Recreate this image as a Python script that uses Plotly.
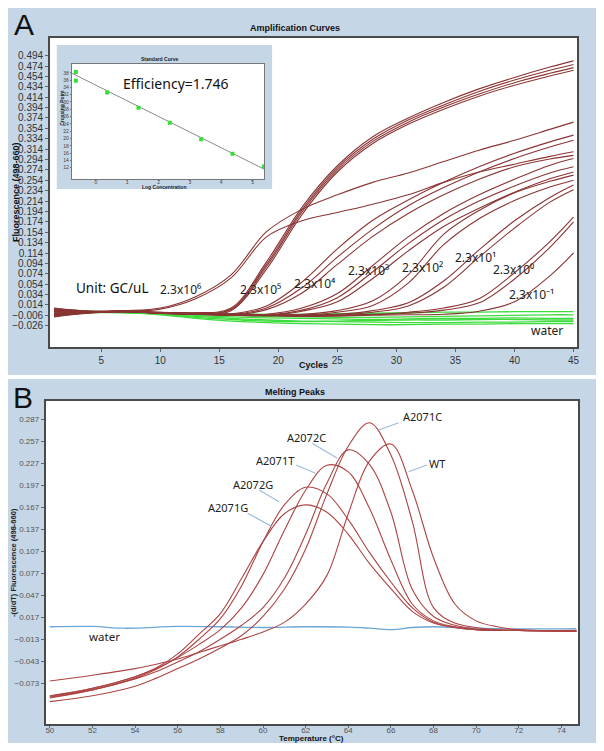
import numpy as np
import plotly.graph_objects as go

# the page body keeps its default 8px margin, so the figure is drawn 8px in
# from the top-left corner of the window; all layout positions below are
# given in window pixels and shifted back by OFF
OFF = 8
W, H = 604 - 2 * OFF, 751 - 2 * OFF


def px(x):
    return (x - OFF) / W


def py(y):
    return 1 - (y - OFF) / H


# ---------------- A: amplification curves ----------------
cycles = [1, 4, 7, 10, 13, 16, 19, 22, 25, 28, 31, 34, 37, 40, 43, 45]

# 2.3x10^6
g6a = [0.006, 0.001, 0.003, 0.008, 0.030, 0.072, 0.155, 0.198, 0.226, 0.250, 0.268, 0.290, 0.312, 0.331, 0.352, 0.366]
g6b = [-0.004, 0.000, 0.002, 0.006, 0.026, 0.066, 0.145, 0.176, 0.192, 0.208, 0.226, 0.250, 0.270, 0.285, 0.300, 0.309]
# 2.3x10^5
g5a = [0.004, 0.001, 0.002, 0.000, -0.001, 0.008, 0.097, 0.202, 0.282, 0.338, 0.374, 0.404, 0.430, 0.452, 0.472, 0.484]
g5b = [-0.002, 0.000, 0.001, -0.002, -0.002, 0.006, 0.092, 0.197, 0.278, 0.333, 0.370, 0.399, 0.425, 0.447, 0.466, 0.477]
g5c = [0.008, 0.002, 0.001, -0.001, -0.003, 0.005, 0.088, 0.193, 0.274, 0.329, 0.366, 0.395, 0.420, 0.442, 0.460, 0.471]
g5d = [-0.007, -0.001, 0.002, -0.002, -0.004, 0.003, 0.083, 0.188, 0.270, 0.325, 0.362, 0.391, 0.416, 0.437, 0.455, 0.466]
# 2.3x10^4
g4a = [0.002, 0.000, 0.002, -0.001, -0.002, -0.003, 0.012, 0.058, 0.122, 0.177, 0.216, 0.250, 0.280, 0.306, 0.328, 0.341]
g4b = [-0.005, -0.001, 0.001, -0.002, -0.003, -0.004, 0.008, 0.047, 0.106, 0.160, 0.205, 0.240, 0.270, 0.296, 0.318, 0.331]
g4c = [0.005, 0.001, 0.002, -0.001, -0.003, -0.005, 0.005, 0.037, 0.092, 0.146, 0.190, 0.226, 0.256, 0.280, 0.295, 0.302]
# 2.3x10^3
g3a = [-0.003, 0.000, 0.001, -0.002, -0.003, -0.005, -0.004, 0.008, 0.036, 0.090, 0.145, 0.190, 0.226, 0.256, 0.283, 0.296]
g3b = [0.001, 0.001, 0.002, -0.001, -0.002, -0.004, -0.005, 0.004, 0.028, 0.078, 0.132, 0.178, 0.214, 0.243, 0.268, 0.280]
g3c = [-0.008, -0.001, 0.001, -0.002, -0.004, -0.006, -0.006, 0.002, 0.020, 0.065, 0.118, 0.165, 0.200, 0.231, 0.257, 0.270]
# 2.3x10^2
g2a = [0.003, 0.001, 0.002, -0.001, -0.002, -0.004, -0.005, -0.004, 0.003, 0.022, 0.072, 0.150, 0.196, 0.230, 0.252, 0.264]
g2b = [-0.001, 0.000, 0.001, -0.002, -0.003, -0.005, -0.006, -0.006, 0.000, 0.013, 0.056, 0.130, 0.180, 0.215, 0.241, 0.254]
# 2.3x10^1
g1a = [0.007, 0.002, 0.002, 0.000, -0.002, -0.004, -0.005, -0.005, -0.004, 0.003, 0.018, 0.060, 0.120, 0.176, 0.221, 0.245]
g1b = [-0.006, -0.001, 0.001, -0.002, -0.003, -0.005, -0.006, -0.007, -0.006, 0.000, 0.012, 0.048, 0.106, 0.162, 0.212, 0.236]
# 2.3x10^0
g0a = [0.002, 0.000, 0.002, -0.001, -0.003, -0.005, -0.006, -0.006, -0.005, -0.004, 0.000, 0.008, 0.026, 0.076, 0.136, 0.183]
g0b = [-0.009, -0.002, 0.001, -0.002, -0.004, -0.006, -0.007, -0.008, -0.007, -0.005, -0.002, 0.004, 0.018, 0.064, 0.125, 0.174]
# 2.3x10^-1
gm1 = [0.004, 0.001, 0.002, -0.001, -0.003, -0.005, -0.006, -0.007, -0.007, -0.006, -0.005, -0.004, 0.002, 0.020, 0.070, 0.114]

brown = [g6a, g6b, g5a, g5b, g5c, g5d, g4a, g4b, g4c, g3a, g3b, g3c,
         g2a, g2b, g1a, g1b, g0a, g0b, gm1]

# water (no template) wells
w1 = [0.004, 0.001, 0.000, -0.002, -0.004, -0.006, -0.008, -0.009, -0.010, -0.010, -0.009, -0.008, -0.007, -0.006, -0.005, -0.005]
w2 = [-0.003, 0.000, -0.001, -0.004, -0.008, -0.012, -0.015, -0.017, -0.018, -0.019, -0.020, -0.020, -0.019, -0.019, -0.018, -0.018]
w3 = [0.002, 0.001, -0.001, -0.005, -0.012, -0.017, -0.020, -0.022, -0.023, -0.024, -0.024, -0.023, -0.023, -0.022, -0.022, -0.022]
w4 = [0.006, 0.002, 0.000, -0.001, -0.002, -0.003, -0.004, -0.004, -0.003, -0.002, -0.001, 0.000, 0.000, 0.001, 0.001, 0.001]
w5 = [-0.006, -0.001, -0.001, -0.003, -0.006, -0.009, -0.011, -0.012, -0.013, -0.014, -0.013, -0.012, -0.012, -0.011, -0.012, -0.012]
w6 = [0.000, 0.000, -0.001, -0.004, -0.010, -0.014, -0.017, -0.018, -0.017, -0.016, -0.015, -0.015, -0.014, -0.014, -0.015, -0.015]
water_a = [w1, w2, w3, w4, w5, w6]

a_yticks = [0.494, 0.474, 0.454, 0.434, 0.414, 0.394, 0.374, 0.354, 0.334, 0.314,
            0.294, 0.274, 0.254, 0.234, 0.214, 0.194, 0.174, 0.154, 0.134, 0.114,
            0.094, 0.074, 0.054, 0.034, 0.014, -0.006, -0.026]
a_xticks = [5, 10, 15, 20, 25, 30, 35, 40, 45]

# inset: standard curve
log_conc = [-0.64, -0.64, 0.36, 1.36, 2.36, 3.36, 4.36, 5.36]
cross_pt = [38.2, 35.8, 32.6, 28.4, 24.3, 19.8, 15.8, 12.3]
fit_mask = [True, False, True, True, True, True, True, True]
inset_xticks = [0, 1, 2, 3, 4, 5]
inset_yticks = [12, 14, 16, 18, 20, 22, 24, 26, 28, 30, 32, 34, 36, 38]

# ---------------- B: melting peaks ----------------
temps = [50, 52, 54, 55, 56, 57, 58, 59, 60, 61, 62, 63, 64, 65, 66, 67, 68, 69, 70, 71, 72, 74.7]
a2071c = [-0.098, -0.090, -0.077, -0.066, -0.053, -0.040, -0.025, -0.008, 0.018, 0.055, 0.110, 0.185, 0.250, 0.282, 0.238, 0.148, 0.030, 0.009, 0.003, 0.000, -0.001, -0.002]
wt = [-0.070, -0.062, -0.053, -0.047, -0.040, -0.031, -0.022, -0.013, -0.003, 0.010, 0.035, 0.074, 0.158, 0.230, 0.253, 0.190, 0.098, 0.035, 0.012, 0.004, 0.000, -0.001]
a2072c = [-0.092, -0.082, -0.067, -0.057, -0.044, -0.030, -0.013, 0.006, 0.030, 0.070, 0.130, 0.200, 0.245, 0.225, 0.160, 0.055, 0.018, 0.006, 0.001, 0.000, -0.001, -0.002]
a2071t = [-0.090, -0.080, -0.064, -0.053, -0.038, -0.020, 0.000, 0.030, 0.075, 0.135, 0.190, 0.224, 0.215, 0.165, 0.095, 0.035, 0.012, 0.004, 0.000, -0.001, -0.001, -0.002]
a2072g = [-0.093, -0.082, -0.066, -0.054, -0.037, -0.013, 0.015, 0.060, 0.120, 0.170, 0.194, 0.185, 0.150, 0.105, 0.065, 0.030, 0.010, 0.003, 0.000, -0.001, -0.001, -0.002]
a2071g = [-0.091, -0.080, -0.064, -0.052, -0.033, -0.006, 0.022, 0.070, 0.120, 0.158, 0.170, 0.160, 0.130, 0.090, 0.056, 0.025, 0.009, 0.003, 0.000, -0.001, -0.001, -0.002]
melt = [a2071c, wt, a2072c, a2071t, a2072g, a2071g]

temps_w = [50, 52, 53.5, 56, 58, 60, 62, 64, 65, 66, 67, 68, 70, 72, 74.7]
water_b = [0.004, 0.0045, 0.002, 0.0045, 0.004, 0.003, 0.004, 0.0035, 0.002, 0.000, 0.003, 0.004, 0.002, 0.001, 0.0015]

b_yticks = [0.287, 0.257, 0.227, 0.197, 0.167, 0.137, 0.107, 0.077, 0.047, 0.017, -0.013, -0.043, -0.073]
b_xticks = [50, 52, 54, 56, 58, 60, 62, 64, 66, 68, 70, 72, 74]

BLUE = "#c5d6e7"
BROWN = "#8a3434"
GREEN = "#3ddc3d"
RED = "#ad4444"
LEAD = "#9cbddb"
TXT = "Noto Sans"
SANS = "Liberation Sans"

fig = go.Figure()

for ys in water_a:
    fig.add_trace(go.Scatter(x=cycles, y=ys, mode="lines", xaxis="x", yaxis="y",
                             line=dict(color=GREEN, width=1.3, shape="spline", smoothing=1.0)))
for ys in brown:
    fig.add_trace(go.Scatter(x=cycles, y=ys, mode="lines", xaxis="x", yaxis="y",
                             line=dict(color=BROWN, width=1.1, shape="spline", smoothing=1.0)))

# standard curve inset
lx = np.array(log_conc)[fit_mask]
ly = np.array(cross_pt)[fit_mask]
k, b0 = np.polyfit(lx, ly, 1)
fx = np.array([-0.77, 5.37])
fig.add_trace(go.Scatter(x=fx, y=k * fx + b0, mode="lines", xaxis="x2", yaxis="y2",
                         line=dict(color="#8a8a8a", width=1)))
fig.add_trace(go.Scatter(x=log_conc, y=cross_pt, mode="markers", xaxis="x2", yaxis="y2",
                         marker=dict(color="#35e035", size=4, symbol="square")))

# melting peaks
fig.add_trace(go.Scatter(x=temps_w, y=water_b, mode="lines", xaxis="x3", yaxis="y3",
                         line=dict(color="#6ea6d4", width=1.3, shape="spline")))
for ys in melt:
    fig.add_trace(go.Scatter(x=temps, y=ys, mode="lines", xaxis="x3", yaxis="y3",
                             line=dict(color=RED, width=1.1, shape="spline", smoothing=1.0)))

tick_a = dict(family=SANS, size=10, color="#333")
tick_b = dict(family=SANS, size=8, color="#555")
tick_in = dict(family=SANS, size=5, color="#444")
frame = dict(showline=True, mirror=True, linecolor="#4a4a4a", linewidth=1.5,
             showgrid=False, zeroline=False, ticks="outside", ticklen=3,
             tickcolor="#666")
frame_in = dict(showline=True, mirror=True, linecolor="#777", linewidth=1,
                showgrid=False, zeroline=False, ticks="outside", ticklen=1,
                tickcolor="#777")

fig.update_layout(
    width=W, height=H, autosize=False, showlegend=False,
    margin=dict(l=0, r=0, t=0, b=0),
    paper_bgcolor="white", plot_bgcolor="rgba(0,0,0,0)",
    xaxis=dict(domain=[px(50), px(579)], range=[0.65, 45.3], tickvals=a_xticks,
               tickfont=tick_a, anchor="y", **frame),
    yaxis=dict(domain=[py(347), py(38)], range=[-0.067, 0.528], tickvals=a_yticks,
               tickformat=".3f", tickfont=tick_a, anchor="x", **frame),
    xaxis2=dict(domain=[px(72), px(265)], range=[-0.77, 5.37], tickvals=inset_xticks,
                tickfont=tick_in, anchor="y2", ticklabelstandoff=-3, **frame_in),
    yaxis2=dict(domain=[py(179), py(64)], range=[8.9, 40.4], tickvals=inset_yticks,
                tickfont=tick_in, anchor="x2", **frame_in),
    xaxis3=dict(domain=[px(45.7), px(580)], range=[49.8, 74.78], tickvals=b_xticks,
                tickfont=tick_b, anchor="y3", ticklabelstandoff=-4, **dict(frame, ticklen=2)),
    yaxis3=dict(domain=[py(724), py(400.7)], range=[-0.1285, 0.312], tickvals=b_yticks,
                tickformat=".3f", tickfont=tick_b, anchor="x3", **frame),
)

# panel backgrounds (drawn in order)
bg = [
    (6, 6, 598, 375, BLUE),
    (50, 38, 579, 347, "white"),
    (57, 45, 273, 189, BLUE),
    (72, 64, 265, 179, "white"),
    (6, 379, 598, 745, BLUE),
    (45.7, 400.7, 580, 724, "white"),
]
for x0, y0, x1, y1, c in bg:
    fig.add_shape(type="rect", xref="paper", yref="paper", layer="below",
                  x0=px(x0), x1=px(x1), y0=py(y1), y1=py(y0),
                  fillcolor=c, line=dict(width=0))


def note(x, y, text, size, family=TXT, color="#222", angle=0, bold=False):
    if bold:
        text = "<b>" + text + "</b>"
    fig.add_annotation(x=px(x), y=py(y), xref="paper", yref="paper", text=text,
                       showarrow=False, textangle=angle, xanchor="center", yanchor="middle",
                       font=dict(family=family, size=size, color=color))


# panel letters and titles
note(24, 25, "A", 30, family=SANS, color="#111")
note(23, 397, "B", 30, family=SANS, color="#111")
note(296, 28, "Amplification Curves", 9, family=SANS, color="#111", bold=True)
note(296, 392, "Melting Peaks", 9, family=SANS, color="#111", bold=True)
note(315, 365, "Cycles", 9, family=SANS, color="#111", bold=True)
note(313, 738.5, "Temperature (°C)", 8, family=SANS, color="#111", bold=True)
note(16, 192, "Fluorescence (498-660)", 9, family=SANS, color="#111", angle=-90, bold=True)
note(13, 562, "-(d/dT) Fluorescence (498-660)", 7.5, family=SANS, color="#222", angle=-90, bold=True)

# inset texts
note(160, 59, "Standard Curve", 5, family=SANS, color="#222", bold=True)
note(165, 186.5, "Log Concentration", 5, family=SANS, color="#222", bold=True)
note(62, 108, "Crossing Point", 5, family=SANS, color="#222", angle=-90, bold=True)
note(177, 83, "Efficiency=1.746", 14, color="#111")

# concentration labels on A
note(112.5, 288, "Unit: GC/uL", 13.5, color="#111")
conc_labels = [
    (181, 289, "2.3x10⁶"),
    (261.7, 289, "2.3x10⁵"),
    (316, 283, "2.3x10⁴"),
    (370, 270, "2.3x10³"),
    (424, 267, "2.3x10²"),
    (477.5, 258, "2.3x10¹"),
    (515, 269, "2.3x10⁰"),
    (533.5, 294, "2.3x10⁻¹"),
]
for x, y, t in conc_labels:
    note(x, y, t, 12, color="#222")
note(549, 330, "water", 12, color="#222")

# melting peak labels with leader lines
peak_labels = [
    (424, 416, "A2071C", (380, 430, 400, 422.7)),
    (438, 463, "WT", (410, 471.7, 428.3, 465)),
    (307.5, 437, "A2072C", (313.3, 443.3, 338.3, 458.3)),
    (276, 460, "A2071T", (297, 465, 316.7, 473.3)),
    (254, 484, "A2072G", (260, 490, 280, 501.7)),
    (229, 507, "A2071G", (248.3, 513.3, 273.3, 526.7)),
]
for x, y, t, (x0, y0, x1, y1) in peak_labels:
    note(x, y, t, 11, color="#222")
    fig.add_shape(type="line", xref="paper", yref="paper",
                  x0=px(x0), y0=py(y0), x1=px(x1), y1=py(y1),
                  line=dict(color=LEAD, width=1.2))
note(105, 636, "water", 11.5, color="#222")

fig.write_html("out.html")
